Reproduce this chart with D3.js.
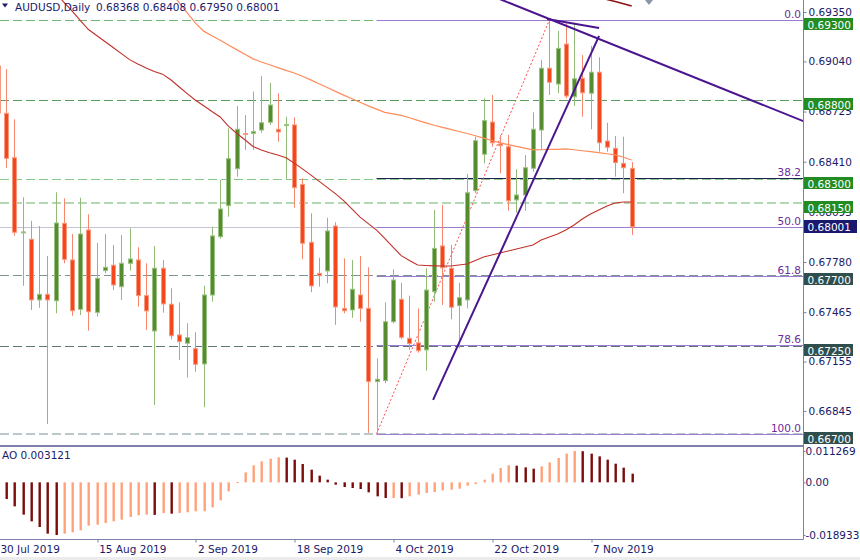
<!DOCTYPE html>
<html><head><meta charset="utf-8">
<script src="https://cdn.jsdelivr.net/npm/d3@7"></script>
<style>html,body{margin:0;padding:0;background:#fff;}svg{display:block;font-family:"DejaVu Sans",sans-serif;font-size:10.5px;}</style>
</head><body><svg id="c" width="860" height="560"></svg>
<script>
// ---------- DATA ----------
const dates = ["2019-07-30","2019-07-31","2019-08-01","2019-08-02","2019-08-05","2019-08-06","2019-08-07","2019-08-08","2019-08-09","2019-08-12","2019-08-13","2019-08-14","2019-08-15","2019-08-16","2019-08-19","2019-08-20","2019-08-21","2019-08-22","2019-08-23","2019-08-26","2019-08-27","2019-08-28","2019-08-29","2019-08-30","2019-09-02","2019-09-03","2019-09-04","2019-09-05","2019-09-06","2019-09-09","2019-09-10","2019-09-11","2019-09-12","2019-09-13","2019-09-16","2019-09-17","2019-09-18","2019-09-19","2019-09-20","2019-09-23","2019-09-24","2019-09-25","2019-09-26","2019-09-27","2019-09-30","2019-10-01","2019-10-02","2019-10-03","2019-10-04","2019-10-07","2019-10-08","2019-10-09","2019-10-10","2019-10-11","2019-10-14","2019-10-15","2019-10-16","2019-10-17","2019-10-18","2019-10-21","2019-10-22","2019-10-23","2019-10-24","2019-10-25","2019-10-28","2019-10-29","2019-10-30","2019-10-31","2019-11-01","2019-11-04","2019-11-05","2019-11-06","2019-11-07","2019-11-08","2019-11-11","2019-11-12","2019-11-13","2019-11-14"];
const open = [0.69011,0.68714,0.68435,0.67966,0.67923,0.67542,0.67577,0.67537,0.68023,0.67793,0.67483,0.67981,0.67464,0.67726,0.67760,0.67625,0.67772,0.67793,0.67569,0.67347,0.67741,0.67515,0.67322,0.67270,0.67236,0.67140,0.67573,0.67939,0.68134,0.68366,0.68587,0.68588,0.68609,0.68658,0.68614,0.68639,0.68641,0.68268,0.67904,0.67709,0.67724,0.68006,0.67489,0.67479,0.67573,0.67489,0.67029,0.67035,0.67405,0.67546,0.67301,0.67272,0.67228,0.67594,0.67881,0.67741,0.67506,0.67542,0.68228,0.68457,0.68659,0.68521,0.68504,0.68170,0.68201,0.68369,0.68609,0.68997,0.68898,0.69149,0.68818,0.68934,0.68840,0.68972,0.68540,0.68494,0.68400,0.68368];
const high = [0.69024,0.68992,0.68676,0.68187,0.68038,0.68006,0.67818,0.68218,0.68180,0.67956,0.68184,0.68080,0.67901,0.67956,0.67887,0.67950,0.67992,0.67873,0.67772,0.67881,0.67793,0.67615,0.67527,0.67395,0.67339,0.67631,0.68002,0.68295,0.68620,0.68760,0.68703,0.68850,0.68948,0.68906,0.68840,0.68693,0.68689,0.68306,0.68086,0.67807,0.68058,0.68030,0.67803,0.67793,0.67818,0.67747,0.67176,0.67527,0.67734,0.67650,0.67569,0.67489,0.67741,0.68107,0.68138,0.67887,0.67650,0.68333,0.68567,0.68808,0.68829,0.68578,0.68578,0.68362,0.68452,0.68720,0.69049,0.69300,0.69231,0.69279,0.69283,0.69080,0.69137,0.69066,0.68655,0.68572,0.68567,0.68408];
const low = [0.68687,0.68371,0.67945,0.67631,0.67479,0.67493,0.66763,0.67458,0.67772,0.67443,0.67447,0.67349,0.67437,0.67709,0.67604,0.67542,0.67726,0.67500,0.67353,0.66882,0.67462,0.67295,0.67165,0.67054,0.67091,0.66868,0.67531,0.67927,0.68065,0.68316,0.68484,0.68484,0.68592,0.68641,0.68536,0.68302,0.68121,0.67797,0.67590,0.67625,0.67646,0.67385,0.67458,0.67430,0.67405,0.66707,0.66700,0.67019,0.67395,0.67295,0.67228,0.67211,0.67098,0.67531,0.67510,0.67420,0.67238,0.67489,0.68212,0.68400,0.68504,0.68337,0.68102,0.68090,0.68102,0.68347,0.68484,0.68829,0.68840,0.68808,0.68760,0.68693,0.68614,0.68473,0.68473,0.68316,0.68212,0.67950];
const close = [0.68716,0.68431,0.67967,0.67969,0.67542,0.67577,0.67542,0.68025,0.67797,0.67474,0.67956,0.67468,0.67678,0.67747,0.67636,0.67772,0.67799,0.67569,0.67473,0.67741,0.67517,0.67317,0.67280,0.67305,0.67138,0.67573,0.67944,0.68113,0.68429,0.68614,0.68581,0.68599,0.68655,0.68766,0.68597,0.68643,0.68247,0.67898,0.67630,0.67694,0.67975,0.67498,0.67474,0.67609,0.67489,0.67029,0.67044,0.67405,0.67667,0.67307,0.67268,0.67223,0.67604,0.67866,0.67744,0.67496,0.67556,0.68215,0.68542,0.68668,0.68529,0.68511,0.68165,0.68201,0.68372,0.68614,0.68997,0.68909,0.69122,0.68823,0.68931,0.68843,0.68972,0.68529,0.68501,0.68404,0.68372,0.68001];
const maFast = [null,null,null,null,null,null,null,0.69470,0.69413,0.69357,0.69297,0.69240,0.69203,0.69165,0.69127,0.69089,0.69051,0.69024,0.68999,0.68977,0.68960,0.68925,0.68881,0.68838,0.68796,0.68761,0.68725,0.68691,0.68633,0.68589,0.68548,0.68506,0.68483,0.68466,0.68452,0.68435,0.68401,0.68365,0.68327,0.68288,0.68249,0.68210,0.68166,0.68114,0.68062,0.68021,0.67980,0.67929,0.67873,0.67820,0.67790,0.67761,0.67758,0.67756,0.67755,0.67755,0.67761,0.67768,0.67790,0.67812,0.67824,0.67837,0.67849,0.67862,0.67874,0.67887,0.67918,0.67937,0.67956,0.67981,0.68013,0.68050,0.68082,0.68107,0.68132,0.68151,0.68157,0.68157];
const maMid = [null,null,null,null,null,null,null,null,null,null,null,null,null,null,null,null,null,null,null,null,null,0.69476,0.69410,0.69345,0.69280,0.69230,0.69201,0.69173,0.69143,0.69114,0.69085,0.69056,0.69036,0.69019,0.69001,0.68984,0.68967,0.68947,0.68924,0.68900,0.68876,0.68852,0.68828,0.68805,0.68783,0.68761,0.68740,0.68720,0.68711,0.68701,0.68686,0.68670,0.68654,0.68639,0.68626,0.68613,0.68600,0.68587,0.68573,0.68558,0.68543,0.68528,0.68517,0.68506,0.68495,0.68484,0.68485,0.68487,0.68488,0.68490,0.68485,0.68479,0.68473,0.68467,0.68460,0.68453,0.68438,0.68421];
const maSlow = [null,null,null,null,null,null,null,null,null,null,null,null,null,null,null,null,null,null,null,null,null,null,null,null,null,null,null,null,null,null,null,null,null,null,null,null,null,null,null,null,null,null,null,null,null,null,null,null,null,null,null,null,null,null,null,null,null,null,null,null,null,null,null,null,null,null,null,null,null,null,null,null,0.69457,0.69443,0.69429,0.69416,0.69402,0.69388];
const ao = [-0.00350,-0.00599,-0.00863,-0.01162,-0.01402,-0.01606,-0.01845,-0.018933,-0.01845,-0.01797,-0.01726,-0.01558,-0.01522,-0.01462,-0.01402,-0.01342,-0.01246,-0.01186,-0.01162,-0.01170,-0.01102,-0.01126,-0.01100,-0.01078,-0.01043,-0.01040,-0.00899,-0.00647,-0.00324,0.00010,0.00359,0.00611,0.00755,0.00851,0.00899,0.00890,0.00815,0.00659,0.00455,0.00240,0.00096,-0.00084,-0.00168,-0.00204,-0.00240,-0.00359,-0.00503,-0.00563,-0.00560,-0.00570,-0.00503,-0.00443,-0.00383,-0.00348,-0.00288,-0.00264,-0.00228,-0.00120,-0.00060,0.00096,0.00312,0.00515,0.00611,0.00599,0.00539,0.00491,0.00575,0.00719,0.00875,0.01031,0.011269,0.01120,0.01031,0.00935,0.00815,0.00671,0.00527,0.003121];
const priceTicks = [0.69350,0.69040,0.68725,0.68410,0.68095,0.67780,0.67465,0.67155,0.66845];
const levels = [0.69300,0.68800,0.68300,0.68150,0.67700,0.67250,0.66700];
const bidPrice = 0.68001;
const fibLevels = [0.0,38.2,50.0,61.8,78.6,100.0];
const fibLowBar = 46, fibLow = 0.66700, fibHighBar = 67, fibHigh = 0.69300;
const trendUp = [[52.87,0.66914],[73.04,0.69200]];
const trendDown = [[58,0.69493],[100,0.68620]];
const trendShort = [[66.72,0.69306],[73.04,0.69250]];
const aoTicks = [0.011269,0,-0.018933];
const aoTickLabels = ["0.011269","0.00","-0.018933"];
const dateTickBars = [0,12,24,36,48,60,72];
const headerSymbol = "AUDUSD,Daily";
const headerOHLC = ["0.68368","0.68408","0.67950","0.68001"];
const aoLabel = "AO 0.003121";

// ---------- LAYOUT ----------
const W=860,H=560, R=803, mainBottom=445, aoTop=447, aoBottom=539;
const svg=d3.select("#c");
svg.append("rect").attr("width",W).attr("height",H).attr("fill","#fff");
const defs=svg.append("defs");
defs.append("clipPath").attr("id","cm").append("rect").attr("x",0).attr("y",0).attr("width",R).attr("height",mainBottom);
defs.append("clipPath").attr("id","ca").append("rect").attr("x",0).attr("y",aoTop).attr("width",R).attr("height",aoBottom-aoTop);

const x=d3.scaleLinear().domain([0,77]).range([-2.1,631.7]);
const y=d3.scaleLinear().domain([0.666623,0.694256]).range([440,0]);
const yA=d3.scaleLinear().domain([-0.018933,0.011269]).range([535,451]);
const cx=i=>Math.round(x(i))+0.5;
const TXT="#1a1a6a";

const g=svg.append("g").attr("clip-path","url(#cm)");

// horizontal levels
const levelStyle=[
 {c:"#74b474",w:1,box:"#228b22"},
 {c:"#5b9b5b",w:1,box:"#228b22"},
 {c:"#86c986",w:1,box:"#228b22"},
 {c:"#b3d9b3",w:2,box:"#228b22"},
 {c:"#7d9494",w:1,box:"#2f4f4f"},
 {c:"#5f7777",w:1,box:"#2f4f4f"},
 {c:"#b9c9c9",w:2,box:"#2f4f4f"}];
// bid line
g.append("line").attr("x1",0).attr("x2",R).attr("y1",Math.round(y(bidPrice))+0.5).attr("y2",Math.round(y(bidPrice))+0.5)
 .attr("stroke","#c4c4d2").attr("stroke-width",1);
levels.forEach((p,k)=>{
  const s=levelStyle[k], yy=Math.round(y(p))+(s.w===1?0.5:0);
  g.append("line").attr("x1",0).attr("x2",R).attr("y1",yy).attr("y2",yy)
   .attr("stroke",s.c).attr("stroke-width",s.w).attr("stroke-dasharray","9,4");
});
// fibonacci
const fibPrice=l=>fibHigh-l/100*(fibHigh-fibLow);
fibLevels.forEach(l=>{
  const yy=Math.round(y(fibPrice(l)))+0.5;
  g.append("line").attr("x1",x(fibLowBar)).attr("x2",R).attr("y1",yy).attr("y2",yy)
   .attr("stroke",l===38.2?"#20204f":"#9b7bd4").attr("stroke-width",1);
  g.append("text").attr("x",801).attr("y",yy-2.5).attr("text-anchor","end").attr("fill","#6a2d9a").text(l.toFixed(1));
});
g.append("line").attr("x1",x(fibLowBar)).attr("y1",y(fibLow)).attr("x2",x(fibHighBar)).attr("y2",y(fibHigh))
 .attr("stroke","#ff4a4a").attr("stroke-width",1).attr("stroke-dasharray","2,2");

// candles
const idx=d3.range(open.length);
idx.forEach(i=>{
  const bull=close[i]>=open[i];
  const xx=cx(i);
  g.append("line").attr("x1",xx).attr("x2",xx).attr("y1",y(high[i])).attr("y2",y(low[i]))
   .attr("stroke",bull?"#93ba78":"#f5886c").attr("stroke-width",1);
  const top=y(Math.max(open[i],close[i])), bot=y(Math.min(open[i],close[i]));
  g.append("rect").attr("x",xx-2).attr("y",top).attr("width",4).attr("height",Math.max(1,bot-top))
   .attr("fill",bull?"#548c2f":"#f4471c").attr("stroke",bull?"#9cc283":"#f79a80").attr("stroke-width",1);
});

// moving averages
const ln=d3.line().defined(d=>d[1]!=null).x(d=>x(d[0])).y(d=>y(d[1]));
g.append("path").attr("d",ln(maMid.map((v,i)=>[i,v]))).attr("fill","none").attr("stroke","#ff8c5a").attr("stroke-width",1.2);
g.append("path").attr("d",ln(maFast.map((v,i)=>[i,v]))).attr("fill","none").attr("stroke","#c0302a").attr("stroke-width",1.1);
g.append("path").attr("d",ln(maSlow.map((v,i)=>[i,v]))).attr("fill","none").attr("stroke","#8b1010").attr("stroke-width",1.4);

// trend lines
[trendUp,trendDown,trendShort].forEach(t=>{
  g.append("path").attr("d",ln(t)).attr("fill","none").attr("stroke","#4b1590").attr("stroke-width",2);
});
// chart shift marker
g.append("path").attr("d",`M${x(79.1)-4},0 L${x(79.1)+4},0 L${x(79.1)},5 Z`).attr("fill","#8898aa");

// header
svg.append("path").attr("d","M2,3.5 L8,3.5 L5,7.5 Z").attr("fill",TXT);
svg.append("text").attr("x",15).attr("y",11).attr("fill",TXT).text(headerSymbol);
svg.append("text").attr("x",96).attr("y",11).attr("fill",TXT).text(headerOHLC.join(" "));

// AO panel
const ga=svg.append("g").attr("clip-path","url(#ca)");
ao.forEach((v,i)=>{
  const up = i===0 ? false : v>ao[i-1];
  const y0=yA(0), y1=yA(v);
  ga.append("rect").attr("x",Math.round(x(i))-0.5).attr("width",2.4)
    .attr("y",Math.min(y0,y1)).attr("height",Math.max(1,Math.abs(y1-y0)))
    .attr("fill",up?"#ffa27c":"#7c0a0a");
});
svg.append("text").attr("x",2).attr("y",459).attr("fill",TXT).text(aoLabel);

// frame
const FR="#7f7fab";
svg.append("line").attr("x1",0).attr("x2",R).attr("y1",446).attr("y2",446).attr("stroke",FR).attr("stroke-width",2);
svg.append("line").attr("x1",0).attr("x2",R+0.5).attr("y1",aoBottom+0.5).attr("y2",aoBottom+0.5).attr("stroke",FR).attr("stroke-width",1);
svg.append("line").attr("x1",R+0.5).attr("x2",R+0.5).attr("y1",0).attr("y2",aoBottom+0.5).attr("stroke",FR).attr("stroke-width",1);

// right price axis
const ax=svg.append("g").attr("transform",`translate(${R+0.5},0)`)
  .call(d3.axisRight(y).tickValues(priceTicks).tickSize(3).tickPadding(2).tickFormat(d3.format(".5f")));
ax.select(".domain").remove();
ax.selectAll("line").attr("stroke",FR);
ax.selectAll("text").attr("fill",TXT).style("font-family","DejaVu Sans").style("font-size","10.5px");

// AO axis
const aax=svg.append("g").attr("transform",`translate(${R+0.5},0)`)
  .call(d3.axisRight(yA).tickValues(aoTicks).tickSize(2).tickPadding(0).tickFormat((d,k)=>aoTickLabels[k]));
aax.select(".domain").remove();
aax.selectAll("line").attr("stroke",FR);
aax.selectAll("text").attr("fill",TXT).style("font-family","DejaVu Sans").style("font-size","10.5px");

// level labels
levels.forEach((p,k)=>{
  const yy=Math.round(y(p));
  svg.append("rect").attr("x",R+1).attr("y",yy-2).attr("width",49).attr("height",12).attr("fill",levelStyle[k].box);
  svg.append("text").attr("x",R+4.5).attr("y",yy+8.5).attr("fill","#fff").text(d3.format(".5f")(p));
});
{
  const yy=Math.round(y(bidPrice));
  svg.append("rect").attr("x",R+1).attr("y",yy-7).attr("width",53).attr("height",13).attr("fill","#191970");
  svg.append("text").attr("x",R+4.5).attr("y",yy+4).attr("fill","#fff").text(d3.format(".5f")(bidPrice));
}

// date axis
const fmt=d3.timeFormat("%-d %b %Y"), parse=d3.timeParse("%Y-%m-%d");
const dx=svg.append("g").attr("transform",`translate(0,${aoBottom+0.5})`)
  .call(d3.axisBottom(x).tickValues(dateTickBars).tickSize(3).tickFormat(i=>fmt(parse(dates[i]))));
dx.select(".domain").remove();
dx.selectAll("line").attr("stroke",FR).attr("transform",d=>`translate(${Math.round(x(d))+0.5-x(d)},0)`);
dx.selectAll("text").attr("text-anchor","start").attr("dx","2").attr("y",6).attr("dy","0.71em")
  .attr("fill",TXT).style("font-family","DejaVu Sans").style("font-size","10.5px");
svg.append("rect").attr("x",0).attr("y",557).attr("width",W).attr("height",3).attr("fill","#ececec");
</script></body></html>
